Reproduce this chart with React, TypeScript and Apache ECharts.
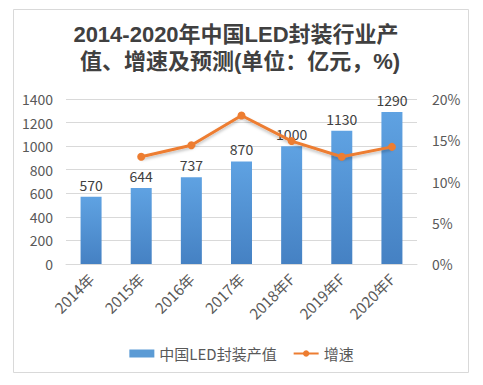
import React, { useEffect, useRef } from "react";
import * as echarts from "echarts";

const titleLine1 = "2014-2020年中国LED封装行业产";
const titleLine2 = "值、增速及预测(单位：亿元，%)";
const categories = ["2014年", "2015年", "2016年", "2017年", "2018年F", "2019年F", "2020年F"];
const outputValues = [570, 644, 737, 870, 1000, 1130, 1290];
const growthRates: (number | string)[] = ["-", 13, 14.4, 18, 14.9, 13, 14.2];
const barName = "中国LED封装产值";
const lineName = "增速";

const FONT = "'Noto Sans CJK SC', 'Noto Sans', sans-serif";
const TITLE_FONT = "'Liberation Sans', 'Noto Sans CJK SC', sans-serif";

export default function App() {
  const ref = useRef<HTMLDivElement>(null);
  useEffect(() => {
    if (!ref.current) return;
    const chart = echarts.init(ref.current, undefined, { renderer: "svg" });
    chart.setOption({
      animation: false,
      backgroundColor: "#ffffff",
      textStyle: { fontFamily: FONT },
      graphic: [
        {
          type: "rect",
          shape: { x: 13.5, y: 9.5, width: 455, height: 363 },
          style: { fill: "none", stroke: "#d9d9d9", lineWidth: 1 },
          silent: true,
        },
        {
          type: "text",
          x: 236,
          y: 34.5,
          style: {
            text: titleLine1,
            font: `bold 22px ${TITLE_FONT}`,
            fill: "#404040",
            textAlign: "center",
            textVerticalAlign: "middle",
          },
        },
        {
          type: "text",
          x: 240,
          y: 61.5,
          style: {
            text: titleLine2,
            font: `bold 22px ${TITLE_FONT}`,
            fill: "#404040",
            textAlign: "center",
            textVerticalAlign: "middle",
          },
        },
      ],
      legend: {
        top: 341,
        left: "center",
        itemWidth: 25,
        itemHeight: 8,
        itemGap: 16,
        textStyle: { fontSize: 15, color: "#595959", fontFamily: FONT },
        data: [
          { name: barName, icon: "rect", itemStyle: { color: "#5b9bd5" } },
          { name: lineName },
        ],
      },
      grid: { left: 66, right: 66, top: 99, bottom: 121 },
      xAxis: {
        type: "category",
        data: categories,
        axisLine: { lineStyle: { color: "#d9d9d9" } },
        axisTick: { show: false },
        axisLabel: {
          rotate: 45,
          fontSize: 15,
          color: "#595959",
          margin: 12,
          interval: 0,
          fontFamily: FONT,
        },
      },
      yAxis: [
        {
          type: "value",
          min: 0,
          max: 1400,
          interval: 200,
          axisLine: { show: false },
          axisTick: { show: false },
          splitLine: { lineStyle: { color: "#d9d9d9" } },
          axisLabel: {
            fontSize: 14,
            color: "#595959",
            margin: 13,
            fontFamily: FONT,
            formatter: (v: number) => String(v),
          },
        },
        {
          type: "value",
          min: 0,
          max: 20,
          interval: 5,
          axisLine: { show: false },
          axisTick: { show: false },
          splitLine: { show: false },
          axisLabel: {
            fontSize: 14,
            color: "#595959",
            margin: 15,
            formatter: "{value}%",
            fontFamily: FONT,
          },
        },
      ],
      series: [
        {
          name: barName,
          type: "bar",
          data: outputValues,
          barWidth: 21,
          itemStyle: {
            color: new echarts.graphic.LinearGradient(0, 0, 0, 1, [
              { offset: 0, color: "#5fa2e2" },
              { offset: 1, color: "#4581c3" },
            ]),
          },
          label: {
            show: true,
            position: "top",
            distance: 5,
            fontSize: 14,
            color: "#404040",
            fontFamily: FONT,
          },
        },
        {
          name: lineName,
          type: "line",
          yAxisIndex: 1,
          data: growthRates,
          symbol: "circle",
          symbolSize: 8,
          lineStyle: {
            color: "#ed7d31",
            width: 3,
            shadowColor: "rgba(0,0,0,0.25)",
            shadowBlur: 3,
            shadowOffsetY: 2,
          },
          itemStyle: { color: "#ed7d31" },
        },
      ],
    });
    return () => chart.dispose();
  }, []);
  return (
    <div
      ref={ref}
      style={{ position: "fixed", left: 0, top: 0, width: 483, height: 385 }}
    />
  );
}
